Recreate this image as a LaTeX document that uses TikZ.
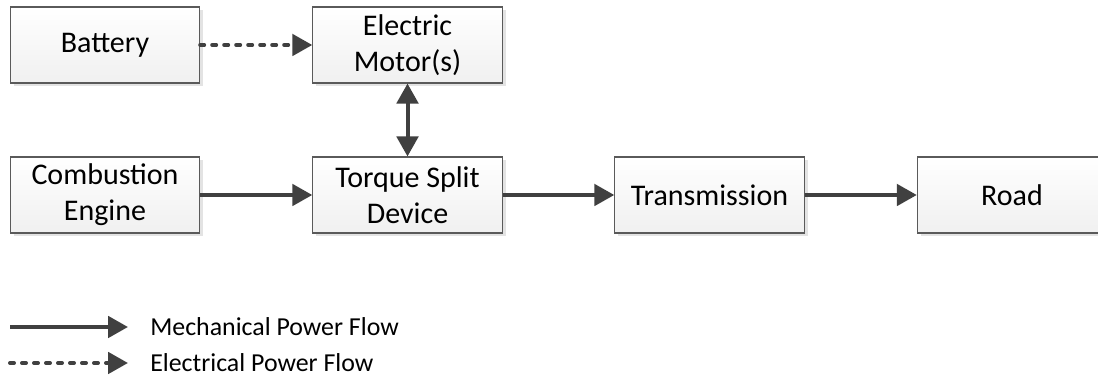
\documentclass[tikz,border=0pt]{standalone}
\usepackage{fontspec}
\setmainfont{Carlito}
\usetikzlibrary{arrows.meta,shadows}
\definecolor{flowgray}{HTML}{404040}
\definecolor{edgegray}{HTML}{5A5A5A}

\begin{document}
\begin{tikzpicture}[x=0.75pt,y=0.75pt,
  box/.style={draw=edgegray,line width=0.8pt,minimum width=142pt,minimum height=57pt,align=center,
    top color=white,bottom color=gray!12,
    drop shadow={shadow xshift=2.5pt,shadow yshift=-2.5pt,fill=gray!22,opacity=1},
    font=\fontsize{22.5}{27}\selectfont},
  flow/.style={draw=flowgray,line width=3pt,-{Triangle[length=15pt,width=16pt]}},
  bothflow/.style={flow,{Triangle[length=15pt,width=16pt]}-{Triangle[length=15pt,width=16pt]}},
  elflow/.style={flow,line cap=round,dash pattern=on 3pt off 6pt},
  legend/.style={anchor=west,inner sep=0pt,font=\fontsize{19.4}{23}\selectfont}
]
\useasboundingbox (0,0) rectangle (1098,377);

\node[box] (battery) at (105,332) {Battery};
\node[box] (motor) at (407.5,332) {Electric\\Motor(s)};
\node[box] (engine) at (105,182) {Combustion\\Engine};
\node[box] (split) at (407.5,182) {Torque Split\\Device};
\node[box] (trans) at (709.5,182) {Transmission};
\node[box] (road) at (1012,182) {Road};

\draw[elflow] (battery) -- (motor);
\draw[bothflow] (motor) -- (split);
\draw[flow] (engine) -- (split);
\draw[flow] (split) -- (trans);
\draw[flow] (trans) -- (road);

% legend
\coordinate (mechA) at (10,50);
\coordinate (mechB) at (128,50);
\coordinate (elecA) at (10,14);
\coordinate (elecB) at (128,14);
\draw[flow] (mechA) -- (mechB);
\draw[elflow] (elecA) -- (elecB);
\node[legend] (mechtext) at (150,50) {Mechanical Power Flow};
\node[legend] (electext) at (150,14) {Electrical Power Flow};
\end{tikzpicture}
\end{document}
